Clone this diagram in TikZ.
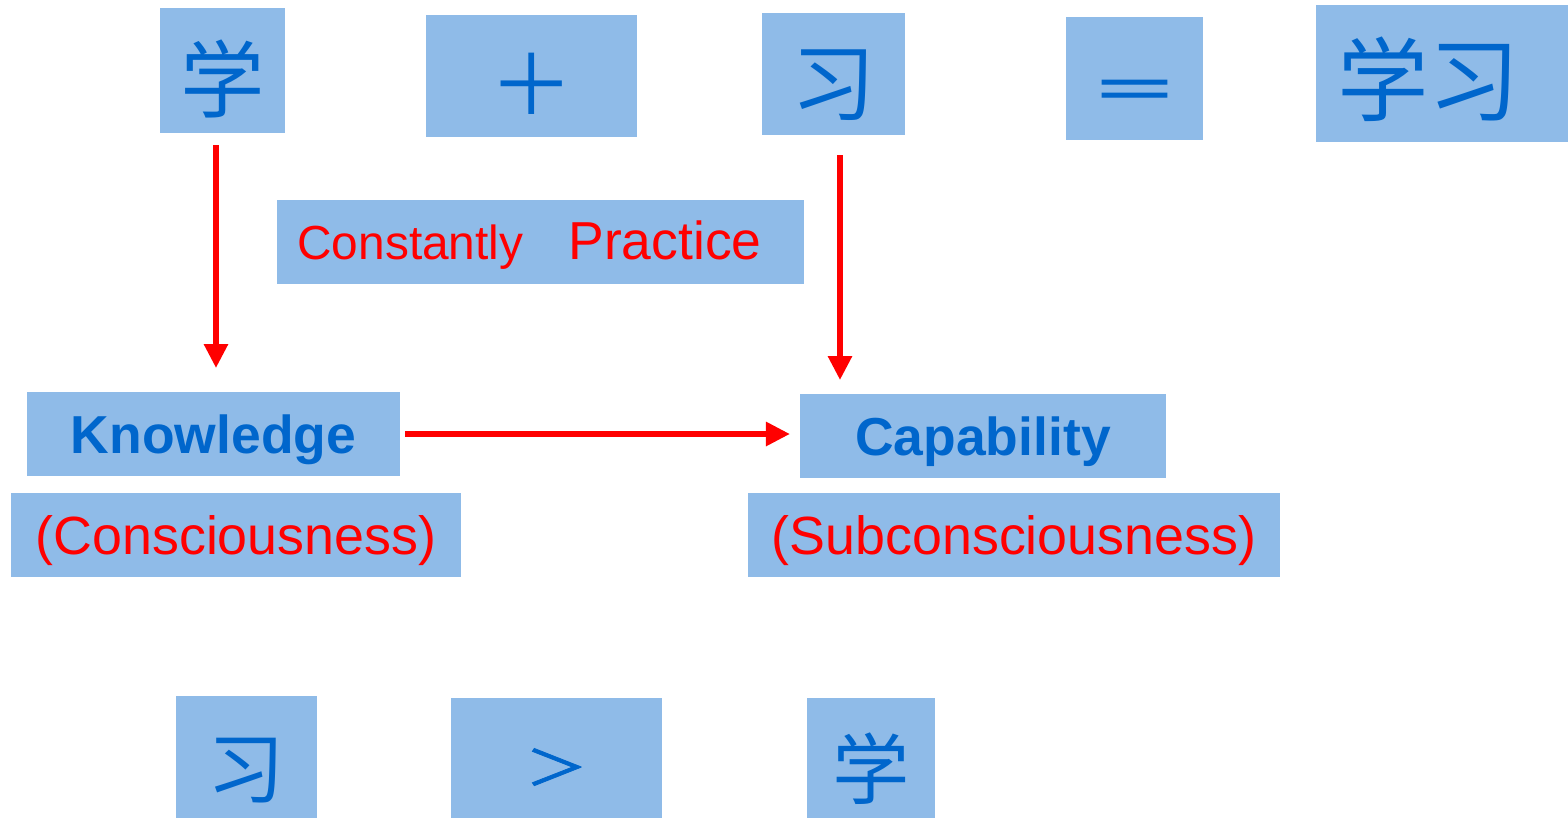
\documentclass[tikz,border=0pt]{standalone}
\usepackage{fontspec}
\setmainfont{Liberation Sans}
\newfontfamily\cjk{Noto Sans CJK SC}
\newfontfamily\cjkfat[FakeBold=1.6]{Noto Sans CJK SC}
\usetikzlibrary{positioning}
\usetikzlibrary{arrows.meta,calc}
\definecolor{boxblue}{HTML}{8FBBE8}
\definecolor{txtblue}{HTML}{0066CC}
\definecolor{txtred}{HTML}{FF0000}
% lower a glyph inside its box
\newcommand{\hz}[2][0.48em]{\raisebox{-#1}[0pt][0pt]{#2}}
\tikzset{
    % Define standard arrow tip
    >={Triangle[length=6.8pt,width=6.6pt]},
    % Define arrow style
    pil/.style={
           ->,
           draw=txtred,
           line width=1.5pt,},
    % boxes
    cell/.style={
           fill=boxblue,
           inner sep=0pt,},
    hanzi/.style={cell, text=txtblue, font=\cjk\fontsize{24}{26}\selectfont},
    word/.style={cell, text=txtblue, text height=10.9pt, text depth=0pt,
           font=\bfseries\fontsize{15.2}{18}\selectfont},
    note/.style={cell, text=txtred, text height=10.9pt, text depth=0pt,
           font=\fontsize{15.3}{18}\selectfont}
}

\begin{document}
\begin{tikzpicture}[x=0.01cm, y=-0.01cm, outer sep = 0pt]

\useasboundingbox (0,0) rectangle (1568,818);

%%%%%%%%%%%%%%%%%%%%%%%%%%%%%%%%%

% top row
\node [hanzi, minimum width=1.25cm, minimum height=1.25cm] (xueA) at ( 222.5, 70.5) {\hz{学}};
\node [hanzi, minimum width=2.11cm, minimum height=1.22cm] (plus) at ( 531.5, 76) {\hz[0.47em]{＋}};
\node [hanzi, minimum width=1.43cm, minimum height=1.22cm] (xiA)  at ( 833.5, 74) {\hz{习}};
\node [hanzi, minimum width=1.37cm, minimum height=1.23cm,
       font=\cjkfat\fontsize{24}{26}\selectfont] (eq) at (1134.5, 78.5)
      {\hz[0.38em]{\scalebox{1.05}[0.68]{＝}}};
\node [hanzi, minimum width=2.52cm, minimum height=1.37cm,
       font=\cjk\fontsize{26}{28}\selectfont] (xuexi) at (1442, 73.5) {\hz[0.45em]{学习}\hspace*{0.26cm}};

% middle
\node [note, minimum width=5.27cm, minimum height=0.84cm, text height=10.2pt]
      (practice) at (540.5, 242)
      {{\fontsize{13.6}{17}\selectfont Constantly}\hspace{0.45cm}{\fontsize{15.2}{17}\selectfont Practice}\hspace*{0.22cm}};
\node [word, minimum width=3.73cm, minimum height=0.84cm] (know)  at ( 213.5, 434) {Knowledge};
\node [note, minimum width=4.50cm, minimum height=0.84cm] (consc) at ( 236, 535) {(Consciousness)};
\node [word, minimum width=3.66cm, minimum height=0.84cm] (capab) at ( 983, 436) {Capability};
\node [note, minimum width=5.32cm, minimum height=0.84cm] (subc)  at (1014, 535) {(Subconsciousness)};

% bottom row
\node [hanzi, minimum width=1.41cm, minimum height=1.22cm,
       font=\cjk\fontsize{22}{24}\selectfont] (xiB)  at (246.5, 757) {\hz[0.52em]{习}};
\node [hanzi, minimum width=2.11cm, minimum height=1.20cm,
       font=\cjkfat\fontsize{22}{24}\selectfont] (gt)   at (556.5, 758)
      {\hz[0.35em]{\scalebox{0.81}[0.62]{＞}}};
\node [hanzi, minimum width=1.28cm, minimum height=1.20cm,
       font=\cjk\fontsize{22}{24}\selectfont] (xueB) at (871, 758) {\hz[0.52em]{学}};

% arrows
\draw [pil, shorten <=0.12cm, shorten >=0.24cm]
      ([xshift=-0.065cm]xueA.south) -- ([xshift=-0.065cm]xueA.south |- know.north);
\draw [pil, shorten <=0.20cm, shorten >=0.14cm]
      ([xshift=0.065cm]xiA.south) -- ([xshift=0.065cm]xiA.south |- capab.north);
\draw [pil, shorten <=0.05cm, shorten >=0.10cm]
      (know.east) -- (know.east -| capab.west);

\end{tikzpicture}
\end{document}
